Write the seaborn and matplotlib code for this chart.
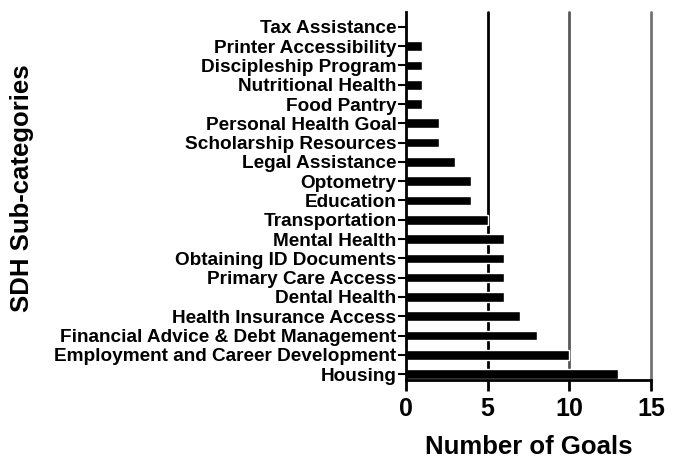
import numpy as np
import seaborn as sns
import pandas as pd
import matplotlib.pyplot as plt


categories = ['Tax Assistance', 'Printer Accessibility', 'Discipleship Program',
              'Nutritional Health', 'Food Pantry', 'Personal Health Goal',
              'Scholarship Resources', 'Legal Assistance', 'Optometry', 'Education',
              'Transportation', 'Mental Health', 'Obtaining ID Documents',
              'Primary Care Access', 'Dental Health', 'Health Insurance Access',
              'Financial Advice & Debt Management', 'Employment and Career Development',
              'Housing']
goals = [0, 1, 1, 1, 1, 2, 2, 3, 4, 4, 5, 6, 6, 6, 6, 7, 8, 10, 13]
x_ticks = [0, 5, 10, 15]

df = pd.DataFrame({'SDH Sub-categories': categories, 'Number of Goals': goals})

sns.set_style("white")
plt.rcParams['font.family'] = ['Liberation Sans', 'DejaVu Sans']
plt.rcParams['font.weight'] = 'bold'
plt.rcParams['text.color'] = 'black'
plt.rcParams['axes.labelcolor'] = 'black'
plt.rcParams['xtick.color'] = 'black'
plt.rcParams['ytick.color'] = 'black'

fig = plt.figure(figsize=(6.78, 4.71), dpi=100)
ax = fig.add_axes([0.599, 0.193, 0.361, 0.782])

sns.barplot(data=df, x='Number of Goals', y='SDH Sub-categories', color='black',
            orient='h', width=0.5, ax=ax, zorder=3)

ax.set_xlim(0, 15)
ax.set_ylim(18.31, -0.78)
ax.set_xticks(x_ticks)
ax.yaxis.grid(False)
ax.xaxis.grid(False)
# vertical reference lines at 5, 10, 15
for xv, c in zip(x_ticks[1:], ['black', '0.35', '0.45']):
    ax.axvline(xv, color=c, linewidth=2, zorder=1, clip_on=False)

for s in ['top', 'right']:
    ax.spines[s].set_visible(False)
for s in ['left', 'bottom']:
    ax.spines[s].set_linewidth(2)
    ax.spines[s].set_color('black')
    ax.spines[s].set_zorder(4)

ax.tick_params(axis='y', which='major', left=True, length=6, width=1.5,
               labelsize=13.7, pad=1, direction='out')
ax.tick_params(axis='x', which='major', bottom=True, length=8, width=2,
               labelsize=18, pad=4, direction='out')
for lab in ax.get_yticklabels() + ax.get_xticklabels():
    lab.set_fontweight('bold')

ax.set_xlabel('Number of Goals', fontsize=18.5, fontweight='bold', labelpad=10)
ax.set_ylabel('SDH Sub-categories', fontsize=18.5, fontweight='bold')
ax.yaxis.set_label_coords(-1.52, 0.52)

fig.savefig('out.png', dpi=100, facecolor='white')
